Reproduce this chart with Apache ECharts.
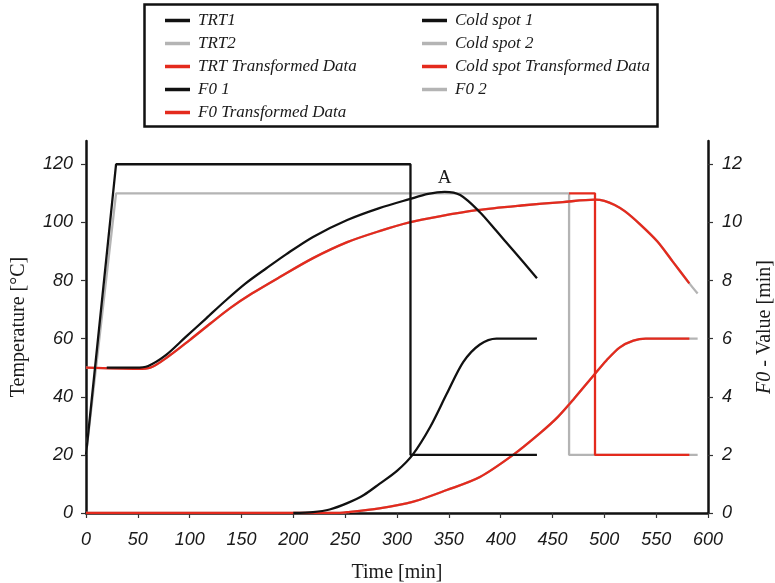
<!DOCTYPE html>
<html>
<head>
<meta charset="utf-8">
<script src="https://cdn.jsdelivr.net/npm/echarts@6/dist/echarts.min.js"></script>
<style>
  html, body { margin: 0; padding: 0; background: #fff; overflow: hidden; }
  #chart { width: 775px; height: 583px; }
</style>
</head>
<body>
<div id="chart"></div>
<script>
// Retort temperature profiles (TRT), cold-spot temperatures and accumulated F0 values
// Time in minutes; temperatures in °C (left axis); F0 in minutes (right axis)

const xTicks = [0, 50, 100, 150, 200, 250, 300, 350, 400, 450, 500, 550, 600];
const tempTicks = [0, 20, 40, 60, 80, 100, 120];
const f0Ticks = [0, 2, 4, 6, 8, 10, 12];

const trt1 = [[0, 20], [29, 120], [313, 120], [313, 20], [435, 20]];
const trt2 = [[0, 20], [29, 110], [466, 110], [466, 20], [590, 20]];
const trtTransformed = [[466, 110], [491, 110], [491, 20], [582, 20]];

const coldSpot1 = [
  [20, 50], [48, 50], [60, 50.6], [77, 54.3], [96, 60.5], [116, 67], [135, 73.2],
  [154, 79], [174, 84.2], [193, 89.0], [219, 95], [252, 100.8], [283, 104.9],
  [312, 108], [330, 109.8], [346, 110.5], [361, 109.4], [380, 103.5], [396, 97],
  [412, 90.4], [435, 80.8]
];
const coldSpot2 = [
  [0, 50], [50, 49.6], [62, 50], [80, 54], [100, 59.5], [120, 65.2], [139, 70.5],
  [160, 75.5], [187, 81.2], [219, 87.7], [252, 93.2], [283, 97.0], [312, 100],
  [341, 102.1], [377, 104.2], [420, 105.8], [460, 107], [491, 107.8], [500, 107.4],
  [510, 106], [520, 103.8], [534, 99.5], [551, 93.5], [566, 86.5], [582, 79], [590, 75.5]
];
const coldSpotTransformed = [
  [0, 50], [50, 49.6], [62, 50], [80, 54], [100, 59.5], [120, 65.2], [139, 70.5],
  [160, 75.5], [187, 81.2], [219, 87.7], [252, 93.2], [283, 97.0], [312, 100],
  [341, 102.1], [377, 104.2], [420, 105.8], [460, 107], [491, 107.8], [500, 107.4],
  [510, 106], [520, 103.8], [534, 99.5], [551, 93.5], [566, 86.5], [582, 79]
];

const f01 = [
  [200, 0], [219, 0.03], [235, 0.12], [252, 0.34], [268, 0.62], [283, 1.0],
  [300, 1.45], [315, 2.0], [332, 2.96], [348, 4.1], [364, 5.2], [380, 5.8],
  [396, 6.0], [435, 6.0]
];
const f02 = [
  [0, 0], [240, 0], [252, 0.03], [283, 0.16], [315, 0.38], [348, 0.79], [380, 1.24],
  [412, 2.0], [438, 2.75], [455, 3.3], [470, 3.9], [490, 4.75], [502, 5.25],
  [515, 5.7], [528, 5.93], [540, 6.0], [590, 6.0]
];
const f0Transformed = [
  [0, 0], [240, 0], [252, 0.03], [283, 0.16], [315, 0.38], [348, 0.79], [380, 1.24],
  [412, 2.0], [438, 2.75], [455, 3.3], [470, 3.9], [490, 4.75], [502, 5.25],
  [515, 5.7], [528, 5.93], [540, 6.0], [582, 6.0]
];

// Peak of the cold spot curve, marked "A"
const peakA = [346, 110.5];

const BLACK = '#111111';
const GREY = '#b4b4b4';
const RED = '#e42a1d';

const tickFont = { fontFamily: 'Liberation Sans', fontStyle: 'italic', fontSize: 18, color: '#1a1a1a' };
const nameFont = { fontFamily: 'Liberation Serif', fontSize: 20, color: '#1a1a1a' };

function line(name, data, color, yAxisIndex, z, curved) {
  return {
    name, type: 'line', data, yAxisIndex, z,
    showSymbol: false, symbol: 'none',
    smooth: curved ? 0.3 : false,
    lineStyle: { color, width: 2.3 },
    itemStyle: { color },
    emphasis: { disabled: true }
  };
}

const coldSpotSeries = line('Cold spot 1', coldSpot1, BLACK, 0, 5, true);
coldSpotSeries.markPoint = {
  symbol: 'circle', symbolSize: 0, silent: true, animation: false,
  label: { show: true, position: 'top', distance: 4, formatter: 'A',
    fontFamily: 'Liberation Serif', fontSize: 19, color: '#1a1a1a' },
  data: [{ coord: peakA }]
};

const legendText = {
  fontFamily: 'Liberation Serif', fontStyle: 'italic', fontSize: 17,
  color: '#1a1a1a', lineHeight: 17, padding: [0, 0, 0, 3]
};
const legendCommon = {
  orient: 'vertical', icon: 'rect', itemWidth: 25, itemHeight: 3.5, itemGap: 6,
  textStyle: legendText, selectedMode: false, padding: 0
};

const option = {
  animation: false,
  backgroundColor: '#fff',
  graphic: [{
    type: 'rect', left: 142, top: 2, z: 0,
    shape: { width: 513, height: 122 },
    style: { fill: 'none', stroke: '#111', lineWidth: 2.5 }
  }],
  legend: [
    Object.assign({ left: 165, top: 12,
      data: ['TRT1', 'TRT2', 'TRT Transformed Data', 'F0 1', 'F0 Transformed Data'] }, legendCommon),
    Object.assign({ left: 422, top: 12,
      data: ['Cold spot 1', 'Cold spot 2', 'Cold spot Transformed Data', 'F0 2'] }, legendCommon)
  ],
  grid: { left: 86, right: 67, top: 141, bottom: 70, containLabel: false, outerBoundsMode: 'none' },
  xAxis: {
    type: 'value', min: 0, max: 600, interval: 50,
    name: 'Time [min]', nameLocation: 'middle', nameGap: 50, nameTextStyle: nameFont,
    axisLine: { lineStyle: { color: '#111', width: 2.5 } },
    axisTick: { show: true, length: 5, inside: false, customValues: xTicks, lineStyle: { color: '#333', width: 1.2 } },
    axisLabel: Object.assign({ margin: 18, customValues: xTicks }, tickFont),
    splitLine: { show: false }
  },
  yAxis: [
    {
      type: 'value', min: 0, max: 128, position: 'left',
      name: 'Temperature [°C]', nameLocation: 'middle', nameGap: 57, nameRotate: 90,
      nameTextStyle: nameFont,
      axisLine: { show: true, lineStyle: { color: '#111', width: 2.5 } },
      axisTick: { show: true, length: 5, customValues: tempTicks, lineStyle: { color: '#333', width: 1.2 } },
      axisLabel: Object.assign({ margin: 13, customValues: tempTicks }, tickFont),
      splitLine: { show: false }
    },
    {
      type: 'value', min: 0, max: 12.8, position: 'right',
      name: '{i|F0} - Value [min]', nameLocation: 'middle', nameGap: 47, nameRotate: 90,
      nameTextStyle: Object.assign({
        rich: { i: { fontFamily: 'Liberation Serif', fontStyle: 'italic', fontSize: 20, color: '#1a1a1a' } }
      }, nameFont),
      axisLine: { show: true, lineStyle: { color: '#111', width: 2.5 } },
      axisTick: { show: true, length: 5, customValues: f0Ticks, lineStyle: { color: '#333', width: 1.2 } },
      axisLabel: Object.assign({ margin: 14, customValues: f0Ticks }, tickFont),
      splitLine: { show: false }
    }
  ],
  series: [
    line('TRT2', trt2, GREY, 0, 2, false),
    line('Cold spot 2', coldSpot2, GREY, 0, 2, true),
    line('F0 2', f02, GREY, 1, 2, true),
    line('TRT Transformed Data', trtTransformed, RED, 0, 3, false),
    line('Cold spot Transformed Data', coldSpotTransformed, RED, 0, 3, true),
    line('F0 Transformed Data', f0Transformed, RED, 1, 3, true),
    line('TRT1', trt1, BLACK, 0, 4, false),
    coldSpotSeries,
    line('F0 1', f01, BLACK, 1, 4, true)
  ]
};

const chart = echarts.init(document.getElementById('chart'), null, { renderer: 'canvas' });
chart.setOption(option);
</script>
</body>
</html>
